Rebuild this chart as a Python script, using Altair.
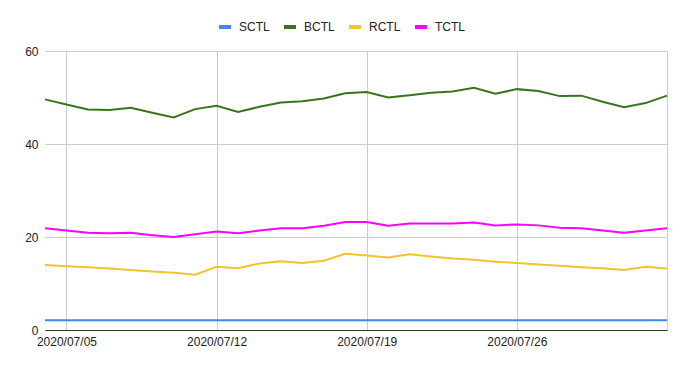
import altair as alt
import pandas as pd

dates = [f"2020-07-{d:02d}" for d in range(4, 32)] + ["2020-08-01", "2020-08-02"]

sctl = [2.1] * 30
bctl = [49.6, 48.5, 47.4, 47.3, 47.8, 46.7, 45.7, 47.5, 48.2, 46.9,
        48.0, 48.9, 49.2, 49.8, 50.9, 51.2, 50.0, 50.5, 51.0, 51.3,
        52.1, 50.8, 51.8, 51.4, 50.3, 50.4, 49.1, 47.9, 48.8, 50.4]
rctl = [14.0, 13.7, 13.5, 13.2, 12.9, 12.6, 12.3, 11.9, 13.6, 13.3,
        14.3, 14.8, 14.4, 14.9, 16.4, 16.0, 15.6, 16.3, 15.8, 15.4,
        15.1, 14.7, 14.4, 14.1, 13.8, 13.5, 13.3, 12.9, 13.6, 13.2]
tctl = [21.9, 21.4, 20.9, 20.8, 20.9, 20.4, 20.0, 20.6, 21.2, 20.8,
        21.4, 21.9, 21.9, 22.4, 23.2, 23.2, 22.4, 22.9, 22.9, 22.9,
        23.1, 22.5, 22.7, 22.5, 22.0, 21.9, 21.4, 20.9, 21.4, 21.9]

series_names = ["SCTL", "BCTL", "RCTL", "TCTL"]
series_colors = ["#4285F4", "#38761D", "#F1C232", "#FF00FF"]
y_ticks = [0, 20, 40, 60]

rows = []
for name, vals in zip(series_names, [sctl, bctl, rctl, tctl]):
    for d, v in zip(dates, vals):
        rows.append({"date": d, "series": name, "value": v})
df = pd.DataFrame(rows)

FONT = "Liberation Sans"

x_tick_vals = [alt.DateTime(year=2020, month=7, date=d, utc=True) for d in (5, 12, 19, 26)] + [
    alt.DateTime(year=2020, month=8, date=2, utc=True)]

chart = alt.Chart(df).mark_line(strokeWidth=2).encode(
    x=alt.X("date:T",
            scale=alt.Scale(type="utc",
                            domain=[alt.DateTime(year=2020, month=7, date=4, utc=True),
                                    alt.DateTime(year=2020, month=8, date=2, utc=True)]),
            axis=alt.Axis(title=None, values=x_tick_vals,
                          labelExpr="utcFormat(datum.value, '%Y/%m/%d') == '2020/08/02' ? '' : utcFormat(datum.value, '%Y/%m/%d')",
                          grid=True, gridColor="#cccccc", ticks=False,
                          domain=True, domainColor="#333333", domainWidth=1,
                          labelPadding=6, labelFlush=False, labelOverlap=False,
                          labelFont=FONT, labelFontSize=12, labelColor="#222222")),
    y=alt.Y("value:Q",
            scale=alt.Scale(domain=[0, 60], nice=False, zero=True),
            axis=alt.Axis(title=None, values=y_ticks, grid=True, gridColor="#cccccc",
                          ticks=False, domain=False, labelPadding=7,
                          labelFont=FONT, labelFontSize=12, labelColor="#222222")),
    color=alt.Color("series:N",
                    scale=alt.Scale(domain=series_names, range=series_colors),
                    legend=alt.Legend(title=None, orient="none", direction="horizontal",
                                      legendX=172, legendY=-32,
                                      symbolType="stroke", symbolSize=144, symbolStrokeWidth=4,
                                      labelFont=FONT, labelFontSize=12, labelColor="#222222",
                                      labelOffset=6, columnPadding=6)),
    order=alt.Order("date:T"),
).properties(
    width=622, height=279,
    autosize=alt.AutoSizeParams(type="none"),
    padding={"left": 37, "top": 43, "right": 11, "bottom": 30},
).configure_view(stroke=None)

chart.save("out.html", embed_options={"renderer": "svg", "actions": False})
